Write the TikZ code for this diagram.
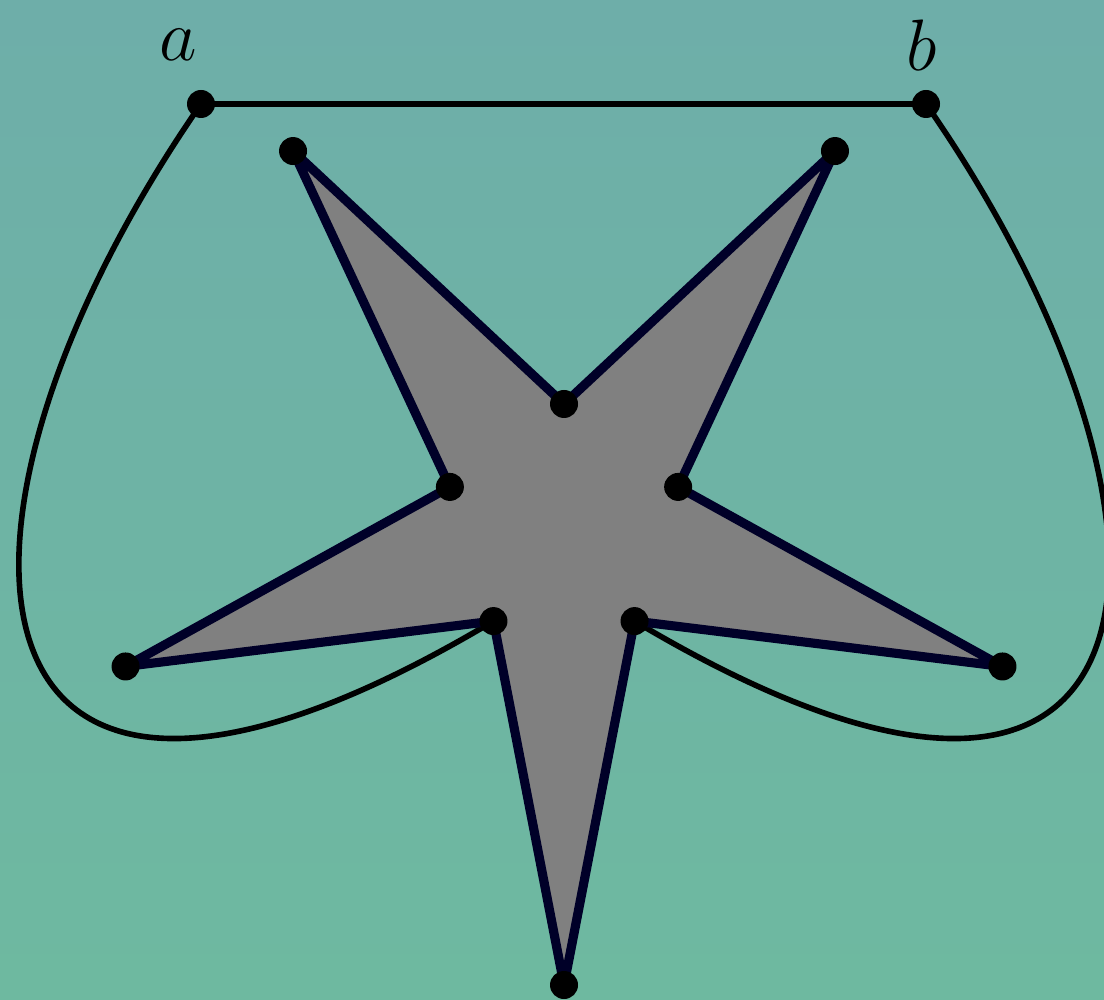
\documentclass[tikz,border=0pt]{standalone}
\usepackage{tikz}
\usetikzlibrary{calc}
\definecolor{bgtop}{RGB}{110,174,169}
\definecolor{bgbot}{RGB}{110,185,160}
\definecolor{starnavy}{RGB}{0,0,40}

\begin{document}
\begin{tikzpicture}[
  dot/.style={circle,fill=black,inner sep=0pt,minimum size=2.8mm},
  link/.style={line width=1.6pt},
  starline/.style={line width=2.6pt,draw=starnavy,fill=gray,line join=round}]
  \useasboundingbox (0,0) rectangle (11.04,9.99);
  % ---- background ----
  \shade[top color=bgtop,bottom color=bgbot] (0,0) rectangle (11.04,9.99);
  % ---- star points (outer tips o, inner corners n) ----
  \coordinate (c) at (5.64,4.75);
  \foreach \i in {0,...,4} {
    \coordinate (o\i) at ($(c)+({-90+72*\i}:4.61)$);
    \coordinate (n\i) at ($(c)+({-54+72*\i}:1.20)$);
  }
  \coordinate (a) at (2.01,8.95);
  \coordinate (b) at (9.26,8.95);
  % ---- path a -- b and the two loops ----
  \draw[link] (a) -- (b);
  \draw[link] (a) .. controls (-0.90,4.75) and (-0.60,0.48) .. (n4);
  \draw[link] (b) .. controls (12.18,4.75) and (11.88,0.48) .. (n0);
  % ---- star ----
  \draw[starline] (o0) -- (n0) -- (o1) -- (n1) -- (o2) -- (n2)
    -- (o3) -- (n3) -- (o4) -- (n4) -- cycle;
  % ---- dots ----
  \foreach \p in {a,b,o0,o1,o2,o3,o4,n0,n1,n2,n3,n4}
    \node[dot] (d\p) at (\p) {};
  \node (la) at (1.78,9.54) {\huge $a$};
  \node (lb) at (9.22,9.54) {\huge $b$};
\end{tikzpicture}
\end{document}
